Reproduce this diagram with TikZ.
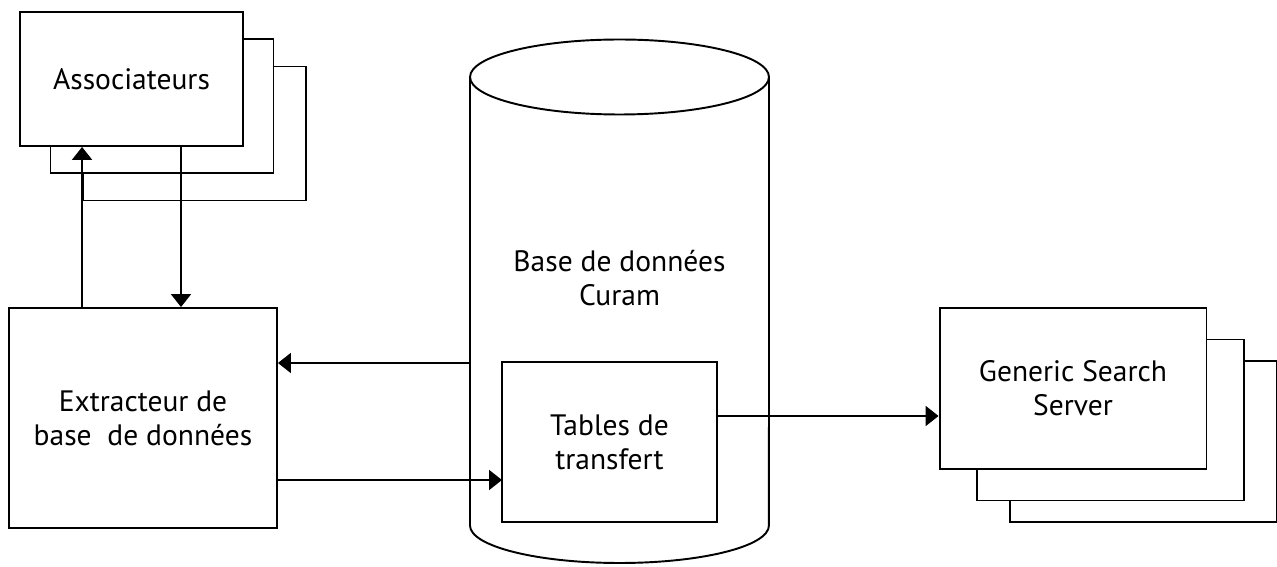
\documentclass[tikz,border=0pt]{standalone}
\usepackage{fontspec}
\setmainfont{PT Sans}
\usetikzlibrary{calc,positioning,arrows.meta}
\begin{document}
\begin{tikzpicture}[x=0.02cm,y=-0.02cm]
\tikzstyle{every node}=[font=\fontsize{16.8}{19.2}\selectfont]
\tikzstyle{box}=[draw, fill=white, line width=1.1pt, inner sep=0pt, align=center]
\tikzstyle{arr}=[line width=1.1pt, -{Triangle[length=0.26cm,width=0.4cm]}]
\useasboundingbox (0,0) rectangle (1277,567);
% associateurs (pile de trois)
\foreach \n/\cx/\cy in {assoc3/194.5/133.5, assoc2/162/106}{
  \node[box, minimum width=4.46cm, minimum height=2.68cm] (\n) at (\cx,\cy) {};}
\node[box, minimum width=4.46cm, minimum height=2.68cm] (assoc) at (131.5,79) {Associateurs};
\node[box, minimum width=5.36cm, minimum height=4.4cm] (ext) at (143,418) {Extracteur de\\base\ \ de donn\'ees};
% base de donnees
\draw[line width=1.1pt] (619.5,77) ellipse [x radius=2.99cm, y radius=0.75cm];
\draw[line width=1.1pt] (470,77) -- (470,525.5)
  arc[start angle=180, end angle=360, x radius=2.99cm, y radius=0.75cm] -- (769,77);
\node[align=center] (curam) at (619.5,278) {Base de donn\'ees\\Curam};
\node[box, minimum width=4.3cm, minimum height=3.2cm] (tab) at (609.5,442) {Tables de\\transfert};
% generic search server (pile de trois)
\foreach \n/\cx/\cy in {gss3/1143/441.5, gss2/1110.5/420}{
  \node[box, minimum width=5.34cm, minimum height=3.22cm] (\n) at (\cx,\cy) {};}
\node[box, minimum width=5.34cm, minimum height=3.22cm] (gss) at (1073,388.5) {Generic Search\\Server};
% fleches
\coordinate (dn) at (181,0);
\coordinate (cylw) at (470,363);
\coordinate (into) at (502,480);
\coordinate (outc) at (717,416);
\draw[arr] (ext.north -| assoc3.west) -- (assoc.south -| assoc3.west);
\draw[arr] (assoc.south -| dn) -- (ext.north -| dn);
\draw[arr] (cylw) -- (cylw -| ext.east);
\draw[arr] (into -| ext.east) -- (into);
\draw[arr] (outc) -- (outc -| gss.west);
\end{tikzpicture}
\end{document}
